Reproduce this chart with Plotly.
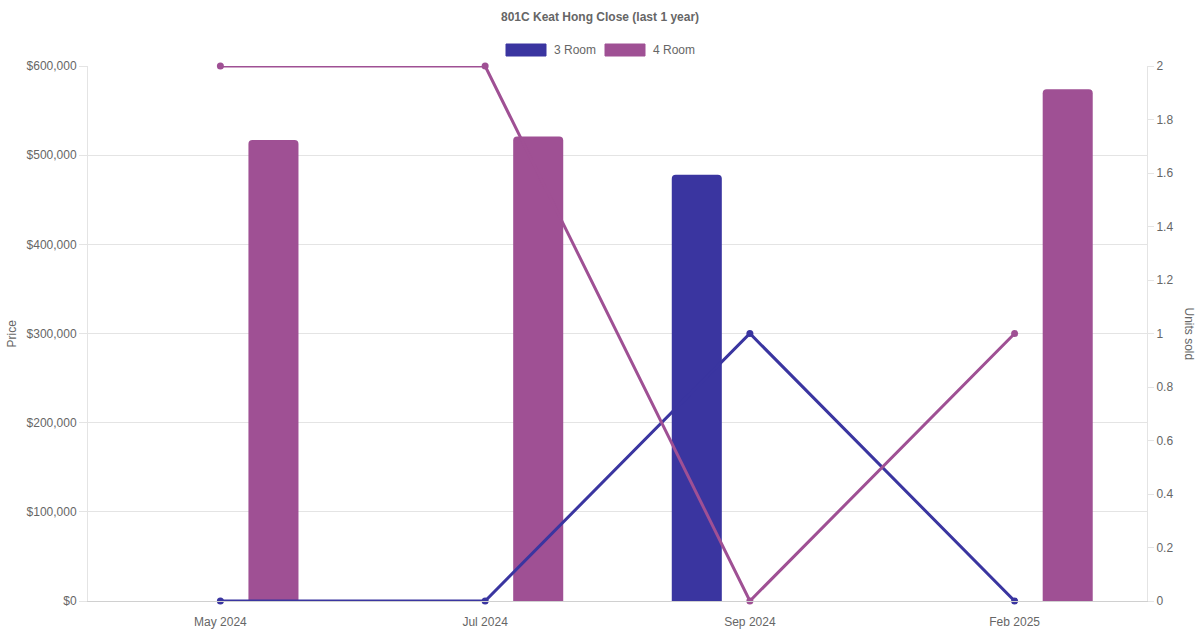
import plotly.graph_objects as go

# data
months = ["May 2024", "Jul 2024", "Sep 2024", "Feb 2025"]
price_3room = [None, None, 478000, None]
price_4room = [517000, 521000, None, 574000]
units_3room = [0, 0, 1, 0]
units_4room = [2, 2, 0, 1]

COLOR_3 = "#3a35a0"
COLOR_4 = "#9f5094"
GRID = "#e4e4e4"
TEXT = "#666666"
FONT = "Liberation Sans, Arial, sans-serif"

# plot area in pixels (matches the reference)
PL, PR, PT, PB = 88, 1147, 66, 601
PW, PH = PR - PL, PB - PT


def px_x(px):
    return (px - PL) / PW


def px_y(py):
    return (PB - py) / PH


fig = go.Figure()

# bars (price, left axis) - fixed width like Chart.js maxBarThickness
fig.add_trace(go.Bar(
    x=months, y=price_3room, name="3 Room",
    marker=dict(color=COLOR_3, line=dict(width=0)),
    width=0.189, offset=-0.295, showlegend=False,
))
fig.add_trace(go.Bar(
    x=months, y=price_4room, name="4 Room",
    marker=dict(color=COLOR_4, line=dict(width=0)),
    width=0.189, offset=0.106, showlegend=False,
))

# lines (units sold, right axis)
fig.add_trace(go.Scatter(
    x=months, y=units_3room, yaxis="y2", mode="lines+markers", name="3 Room",
    line=dict(color=COLOR_3, width=3), marker=dict(color=COLOR_3, size=7),
    cliponaxis=False, showlegend=False,
))
fig.add_trace(go.Scatter(
    x=months, y=units_4room, yaxis="y2", mode="lines+markers", name="4 Room",
    line=dict(color=COLOR_4, width=3), marker=dict(color=COLOR_4, size=7),
    cliponaxis=False, showlegend=False,
))

# legend drawn by hand to get Chart.js style wide boxes
legend_items = [("3 Room", COLOR_3, 506), ("4 Room", COLOR_4, 605)]
shapes = []
annotations = []
for label, color, x0 in legend_items:
    shapes.append(dict(
        type="rect", xref="paper", yref="paper",
        x0=px_x(x0), x1=px_x(x0 + 40), y0=px_y(56), y1=px_y(44),
        fillcolor=color, line=dict(width=1, color=color),
    ))
    annotations.append(dict(
        text=label, xref="paper", yref="paper",
        x=px_x(x0 + 46), y=px_y(50),
        xanchor="left", yanchor="middle", showarrow=False,
        font=dict(size=12, color=TEXT, family=FONT),
    ))

annotations.append(dict(
    text="<b>801C Keat Hong Close (last 1 year)</b>", xref="paper", yref="paper",
    x=px_x(600), y=px_y(17), xanchor="center", yanchor="middle", showarrow=False,
    font=dict(size=12, color=TEXT, family=FONT),
))
annotations.append(dict(
    text="Price", xref="paper", yref="paper",
    x=px_x(11), y=0.5, textangle=-90,
    xanchor="center", yanchor="middle", showarrow=False,
    font=dict(size=12, color=TEXT, family=FONT),
))
annotations.append(dict(
    text="Units sold", xref="paper", yref="paper",
    x=px_x(1189), y=0.5, textangle=90,
    xanchor="center", yanchor="middle", showarrow=False,
    font=dict(size=12, color=TEXT, family=FONT),
))

fig.update_layout(
    width=1200, height=630,
    margin=dict(l=PL, r=1200 - PR, t=PT, b=630 - PB, autoexpand=False),
    paper_bgcolor="white", plot_bgcolor="white",
    font=dict(family=FONT, size=12, color=TEXT),
    barmode="overlay",
    barcornerradius=4,
    showlegend=False,
    shapes=shapes,
    annotations=annotations,
    xaxis=dict(
        type="category", showgrid=False, showline=True, linecolor="#d0d0d0",
        linewidth=1, ticks="outside", ticklen=10, tickcolor="rgba(0,0,0,0)",
        tickfont=dict(size=12, color=TEXT),
        zeroline=False, range=[-0.5, 3.5], automargin=False,
    ),
    yaxis=dict(
        range=[0, 600000], dtick=100000, tickprefix="$", tickformat=",",
        showgrid=True, gridcolor=GRID, gridwidth=1,
        showline=True, linecolor=GRID, zeroline=False,
        ticks="outside", ticklen=8, tickcolor=GRID,
        tickfont=dict(size=12, color=TEXT), automargin=False,
    ),
    yaxis2=dict(
        overlaying="y", side="right", range=[0, 2], dtick=0.2,
        showgrid=False, showline=True, linecolor=GRID, zeroline=False,
        ticks="outside", ticklen=6, tickcolor=GRID,
        tickfont=dict(size=12, color=TEXT), automargin=False,
    ),
)

# drop the default 8px page margin so the figure sits at the window corner
fig.write_html(
    "out.html",
    config={"displayModeBar": False},
    post_script="document.body.style.margin = '0';",
)
